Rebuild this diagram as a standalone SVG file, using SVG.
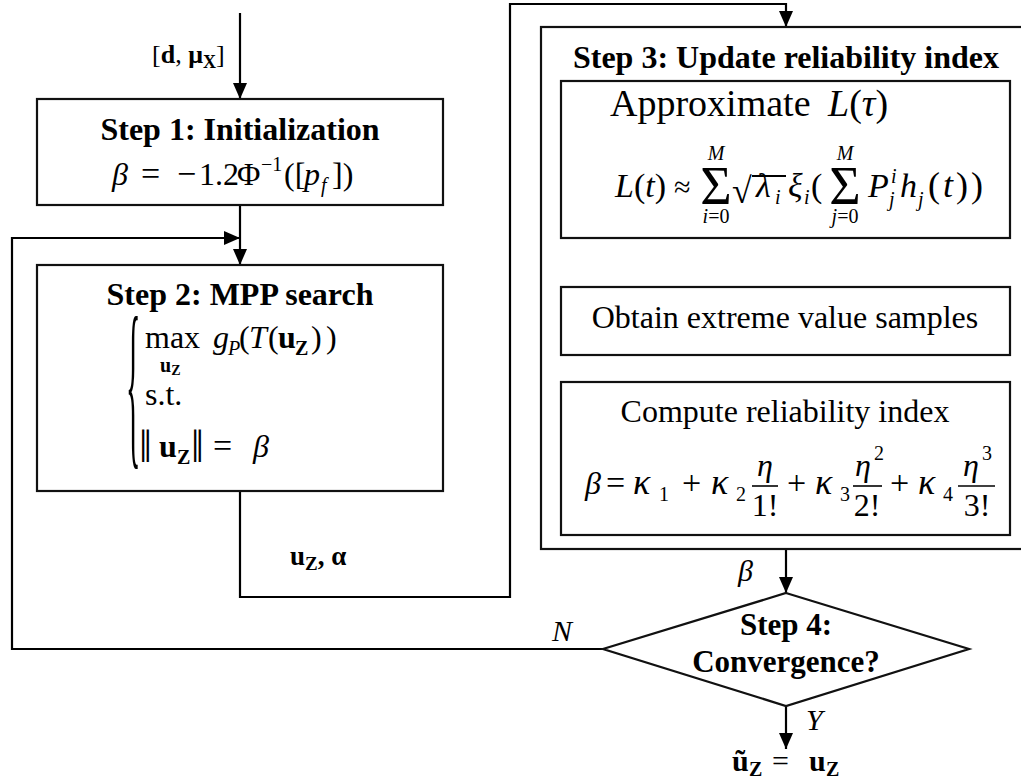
<svg xmlns="http://www.w3.org/2000/svg" width="1021" height="779" viewBox="0 0 1021 779">
<defs>
<marker id="arr" viewBox="0 0 16 14" refX="16" refY="7" markerWidth="16" markerHeight="14" markerUnits="userSpaceOnUse" orient="auto">
<path d="M0,0 L16,7 L0,14 z" fill="#000"/>
</marker>
</defs>
<style>
.box{fill:#fff;stroke:#111;stroke-width:2.2}
.ln{fill:none;stroke:#000;stroke-width:2.2}
text{font-family:"Liberation Serif","DejaVu Serif",serif;fill:#000}
.t{font-size:32px;font-weight:bold}
.n{font-size:32px}
.m{font-size:32px}
.i{font-style:italic}
.b{font-weight:bold}
.s{font-size:20px}
.ss{font-size:14px}
.k{font-size:36px;font-style:italic}
</style>
<rect x="0" y="0" width="1021" height="779" fill="#fff"/>

<g id="connectors">
<line class="ln" x1="240" y1="13" x2="240" y2="99" marker-end="url(#arr)"/>
<line class="ln" x1="240" y1="205" x2="240" y2="265" marker-end="url(#arr)"/>
<polyline class="ln" points="603,649 12,649 12,238 240,238" marker-end="url(#arr)"/>
<polyline class="ln" points="240,491 240,597 510,597 510,4 786,4 786,27" marker-end="url(#arr)"/>
<line class="ln" x1="786" y1="238" x2="786" y2="287" marker-end="url(#arr)"/>
<line class="ln" x1="786" y1="355" x2="786" y2="382" marker-end="url(#arr)"/>
<line class="ln" x1="786" y1="535" x2="786" y2="593" marker-end="url(#arr)"/>
<line class="ln" x1="786" y1="706" x2="786" y2="749" marker-end="url(#arr)"/>
<text x="152" y="63" style="font-size:26px">[<tspan class="b">d</tspan>, <tspan class="b">μ</tspan><tspan class="b" style="font-size:18px" dy="5">X</tspan><tspan dy="-5">]</tspan></text>
<text x="290" y="565" style="font-size:27px" class="b">u<tspan style="font-size:19px" dy="5">Z</tspan><tspan dy="-5">, α</tspan></text>
<text x="738" y="581" class="i" style="font-size:30px">β</text>
<text x="552" y="641" class="i" style="font-size:30px">N</text>
<text x="806" y="730" class="i" style="font-size:30px">Y</text>
<text y="771" style="font-size:30px" class="b"><tspan x="732">ũ</tspan><tspan x="749" y="776" style="font-size:20px">Z</tspan><tspan x="772" y="771" font-weight="normal">=</tspan><tspan x="809">u</tspan><tspan x="826" y="776" style="font-size:20px">Z</tspan></text>
</g>

<g id="step1">
<rect class="box" x="37" y="99" width="406" height="106"/>
<text class="t" x="240" y="140" text-anchor="middle">Step 1: Initialization</text>
<text class="m" y="185"><tspan x="112" class="i">β</tspan><tspan x="141" style="font-size:34px">=</tspan><tspan x="177" style="font-size:34px">−</tspan><tspan x="199">1.2</tspan><tspan x="237">Φ</tspan><tspan x="261" y="171" class="s">−1</tspan><tspan x="284" y="185">([</tspan><tspan x="304" class="i">p</tspan><tspan x="321" y="192" class="s i">f</tspan><tspan x="332" y="185">])</tspan></text>
</g>

<g id="step2">
<rect class="box" x="37" y="265" width="406" height="226"/>
<text class="t" x="240" y="305" text-anchor="middle">Step 2: MPP search</text>
<text transform="translate(126,444) scale(0.6,3.7)" style="font-size:50px">{</text>
<text class="m" y="348"><tspan x="145">max</tspan><tspan x="213" class="i">g</tspan><tspan x="228" y="355" class="s i">P</tspan><tspan x="239" y="348">(</tspan><tspan x="249" class="i">T</tspan><tspan x="268">(</tspan><tspan x="278" class="b">u</tspan><tspan x="295" y="355" class="s b">Z</tspan><tspan x="311" y="348">)</tspan><tspan x="326">)</tspan></text>
<text x="160" y="372" class="b" style="font-size:20px">u<tspan class="ss" dy="3">Z</tspan></text>
<text class="m" x="145" y="405">s.t.</text>
<text y="462" class="m"><tspan x="139" style="font-size:46px">‖</tspan><tspan x="159" y="457" class="b">u</tspan><tspan x="177" y="464" class="s b">Z</tspan><tspan x="191" y="462" style="font-size:46px">‖</tspan><tspan x="213" y="457" style="font-size:34px">=</tspan><tspan x="253" class="i">β</tspan></text>
</g>

<g id="step3">
<rect class="box" x="541" y="27" width="486" height="522"/>
<text class="t" x="786" y="68" text-anchor="middle">Step 3: Update reliability index</text>
</g>

<g id="approx">
<rect class="box" x="561" y="81" width="449" height="157"/>
<text y="116" style="font-size:38px"><tspan x="610">Approximate</tspan><tspan x="828" class="i">L</tspan>(<tspan class="i">τ</tspan>)</text>
<text y="197" style="font-size:34px"><tspan x="615" class="i">L</tspan>(<tspan class="i">t</tspan>)<tspan x="674" style="font-size:30px">≈</tspan></text>
<text x="716" y="204" text-anchor="middle" style="font-size:54px">Σ</text>
<text x="716" y="160" text-anchor="middle" class="s i">M</text>
<text x="716" y="223" text-anchor="middle" class="s"><tspan class="i">i</tspan>=0</text>
<text x="732" y="203" style="font-size:36px">√</text>
<line x1="752" y1="176" x2="786" y2="176" stroke="#000" stroke-width="1.8"/>
<text y="197" style="font-size:34px"><tspan x="756" class="i">λ</tspan><tspan x="775" y="204" class="s i">i</tspan><tspan x="788" y="197" class="i">ξ</tspan><tspan x="804" y="204" class="s i">i</tspan><tspan x="811" y="197">(</tspan></text>
<text x="845" y="204" text-anchor="middle" style="font-size:54px">Σ</text>
<text x="845" y="160" text-anchor="middle" class="s i">M</text>
<text x="845" y="223" text-anchor="middle" class="s"><tspan class="i">j</tspan>=0</text>
<text y="197" style="font-size:34px"><tspan x="868" class="i">P</tspan><tspan x="891" y="183" class="s i">i</tspan><tspan x="889" y="206" class="s i">j</tspan><tspan x="900" y="197" class="i">h</tspan><tspan x="918" y="206" class="s i">j</tspan><tspan x="928" y="197" style="font-size:36px;letter-spacing:3px">(<tspan class="i">t</tspan>))</tspan></text>
</g>

<g id="obtain">
<rect class="box" x="561" y="287" width="449" height="68"/>
<text class="n" x="785" y="328" text-anchor="middle">Obtain extreme value samples</text>
</g>

<g id="compute">
<rect class="box" x="561" y="382" width="449" height="153"/>
<text class="n" x="785" y="422" text-anchor="middle">Compute reliability index</text>
<text class="m" y="494"><tspan x="585" class="i">β</tspan><tspan x="606" style="font-size:34px">=</tspan><tspan x="633" class="k">κ</tspan><tspan x="659" y="501" class="s">1</tspan><tspan x="682" y="494" style="font-size:34px">+</tspan><tspan x="711" class="k">κ</tspan><tspan x="736" y="501" class="s">2</tspan><tspan x="787" y="494" style="font-size:34px">+</tspan><tspan x="815" class="k">κ</tspan><tspan x="840" y="501" class="s">3</tspan><tspan x="890" y="494" style="font-size:34px">+</tspan><tspan x="918" class="k">κ</tspan><tspan x="943" y="501" class="s">4</tspan></text>
<text class="m" x="765" y="476" text-anchor="middle"><tspan class="i">η</tspan></text>
<line x1="752" y1="486" x2="778" y2="486" stroke="#000" stroke-width="1.6"/>
<text class="m" x="765" y="516" text-anchor="middle">1!</text>
<text class="m" x="855" y="476"><tspan class="i">η</tspan><tspan x="874" y="460" class="s">2</tspan></text>
<line x1="853" y1="486" x2="882" y2="486" stroke="#000" stroke-width="1.6"/>
<text class="m" x="867" y="516" text-anchor="middle">2!</text>
<text class="m" x="963" y="476"><tspan class="i">η</tspan><tspan x="982" y="460" class="s">3</tspan></text>
<line x1="958" y1="486" x2="995" y2="486" stroke="#000" stroke-width="1.6"/>
<text class="m" x="977" y="516" text-anchor="middle">3!</text>
</g>

<g id="step4">
<polygon class="box" points="786,593 969,649 786,706 603,649"/>
<text class="t" x="786" y="635" text-anchor="middle" style="font-size:31px">Step 4:</text>
<text class="t" x="786" y="672" text-anchor="middle" style="font-size:31px">Convergence?</text>
</g>
</svg>
